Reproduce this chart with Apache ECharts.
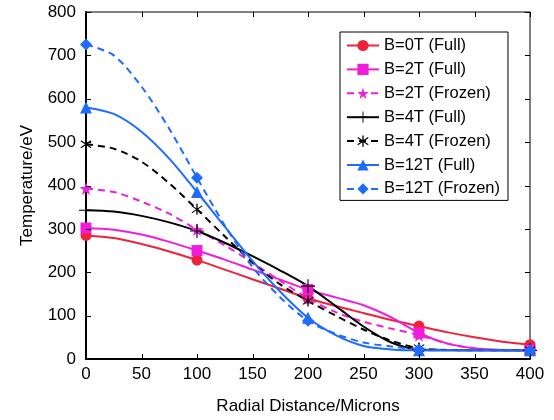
<!DOCTYPE html>
<html><head><meta charset="utf-8">
<script src="https://cdn.jsdelivr.net/npm/echarts@6/dist/echarts.min.js"></script>
<style>html,body{margin:0;padding:0;background:#fff}#c{width:554px;height:420px}</style>
</head><body><div id="c"></div>
<script>
const xs = [0, 25, 50, 75, 100, 125, 150, 175, 200, 225, 250, 275, 300, 325, 350, 375, 400];
const b0Full   = [285, 279, 265, 248, 228, 206, 184, 162, 140, 122, 106, 90, 76, 62, 50, 40, 33];
const b2Full   = [302, 298, 287, 270, 250, 229, 206, 183, 160, 142, 124, 96, 60, 36, 25, 21, 20];
const b2Frozen = [393, 385, 363, 335, 298, 262, 222, 180, 140, 108, 86, 70, 55, 36, 24, 20, 20];
const b4Full   = [343, 340, 330, 315, 295, 268, 237, 204, 168, 122, 75, 38, 22, 20, 20, 20, 20];
const b4Frozen = [495, 485, 455, 405, 345, 283, 222, 172, 134, 100, 68, 42, 25, 21, 20, 20, 20];
const b12Full  = [580, 565, 524, 462, 385, 305, 226, 155, 95, 55, 30, 22, 20, 20, 20, 20, 20];
const b12Frozen= [725, 700, 628, 531, 418, 308, 212, 142, 88, 58, 38, 29, 22, 21, 20, 20, 20];
const markerXs = [0, 100, 200, 300, 400];
const xTicks = [0, 50, 100, 150, 200, 250, 300, 350, 400];
const yTicks = [0, 100, 200, 300, 400, 500, 600, 700, 800];

const RED = '#f2213b', MAG = '#f01ed8', BLK = '#000000', BLU = '#1e6bff';
const STAR = 'path://M5,0 L6.176,3.382 L9.755,3.455 L6.902,5.618 L7.939,9.045 L5,7 L2.061,9.045 L3.098,5.618 L0.245,3.455 L3.824,3.382 Z';
const PLUS = 'path://M4.6,0 L5.4,0 L5.4,4.6 L10,4.6 L10,5.4 L5.4,5.4 L5.4,10 L4.6,10 L4.6,5.4 L0,5.4 L0,4.6 L4.6,4.6 Z';
const AST = 'path://M4.5,0 L5.5,0 L5.5,10 L4.5,10 Z M1.3,1.4 L9.2,7.8 L8.7,8.6 L0.8,2.2 Z M0.8,7.8 L8.7,1.4 L9.2,2.2 L1.3,8.6 Z';
const FONT = 'Liberation Sans';
const TICK_LEN = 5;

function mk(name, vals, color, dashed, symbol, size) {
  return {
    name, type: 'line', smooth: 0.3,
    symbol, symbolSize: size,
    data: xs.map((x, i) => markerXs.includes(x) ? [x, vals[i]] : {value: [x, vals[i]], symbol: 'none'}),
    lineStyle: {color, width: 2, type: dashed ? [7, 5] : 'solid'},
    itemStyle: {color, borderWidth: 0},
    emphasis: {disabled: true}, z: 3
  };
}

// tick marks on all four sides of the frame, positioned through the axes' own scales
function tickSeries(vals, horizontal) {
  return {
    type: 'custom', silent: true, z: 5,
    data: vals.map(v => horizontal ? [v, yTicks[0]] : [xTicks[0], v]),
    renderItem: (params, api) => {
      const p = api.coord([api.value(0), api.value(1)]);
      const cs = params.coordSys;
      const st = {stroke: '#000', lineWidth: 1};
      if (horizontal) {
        const x = Math.round(p[0]) + 0.5, b = cs.y + cs.height, t = cs.y;
        return {type: 'group', children: [
          {type: 'line', shape: {x1: x, y1: b, x2: x, y2: b - TICK_LEN}, style: st},
          {type: 'line', shape: {x1: x, y1: t, x2: x, y2: t + TICK_LEN}, style: st}
        ]};
      }
      const y = Math.round(p[1]) + 0.5, l = cs.x, r = cs.x + cs.width;
      return {type: 'group', children: [
        {type: 'line', shape: {x1: l, y1: y, x2: l + TICK_LEN, y2: y}, style: st},
        {type: 'line', shape: {x1: r, y1: y, x2: r - TICK_LEN, y2: y}, style: st}
      ]};
    }
  };
}

const chart = echarts.init(document.getElementById('c'), null, {renderer: 'canvas'});
chart.setOption({
  animation: false,
  textStyle: {fontFamily: FONT},
  grid: {left: 86, right: 24, top: 12, bottom: 59, show: true, borderColor: '#000', borderWidth: 1, backgroundColor: 'transparent'},
  legend: {
    orient: 'vertical', left: 340, top: 32,
    backgroundColor: '#fff', borderColor: '#000', borderWidth: 1,
    padding: [5, 8, 3, 6],
    itemWidth: 32, itemHeight: 14, itemGap: 6.9,
    textStyle: {fontFamily: FONT, fontSize: 16.5, color: '#000'},
    data: ['B=0T (Full)', 'B=2T (Full)', 'B=2T (Frozen)', 'B=4T (Full)', 'B=4T (Frozen)', 'B=12T (Full)', 'B=12T (Frozen)']
  },
  xAxis: {
    type: 'value', position: 'bottom', min: xTicks[0], max: xTicks[xTicks.length - 1], interval: 50,
    name: 'Radial Distance/Microns', nameLocation: 'middle', nameGap: 39,
    nameTextStyle: {fontFamily: FONT, fontSize: 17, color: '#000'},
    axisLine: {show: true, onZero: false, lineStyle: {color: '#000', width: 2}},
    axisTick: {show: false},
    axisLabel: {fontFamily: FONT, fontSize: 17, color: '#000', margin: 7},
    splitLine: {show: false}
  },
  yAxis: {
    type: 'value', position: 'left', min: yTicks[0], max: yTicks[yTicks.length - 1], interval: 100,
    name: 'Temperature/eV', nameLocation: 'middle', nameGap: 50, nameRotate: 90,
    nameTextStyle: {fontFamily: FONT, fontSize: 17, color: '#000'},
    axisLine: {show: true, onZero: false, lineStyle: {color: '#000', width: 2}},
    axisTick: {show: false},
    axisLabel: {fontFamily: FONT, fontSize: 17, color: '#000', margin: 10},
    splitLine: {show: false}
  },
  series: [
    tickSeries(xTicks, true),
    tickSeries(yTicks, false),
    mk('B=0T (Full)', b0Full, RED, false, 'circle', 11),
    mk('B=2T (Full)', b2Full, MAG, false, 'rect', 11),
    mk('B=2T (Frozen)', b2Frozen, MAG, true, STAR, 13),
    mk('B=4T (Full)', b4Full, BLK, false, PLUS, 14),
    mk('B=4T (Frozen)', b4Frozen, BLK, true, AST, 11),
    mk('B=12T (Full)', b12Full, BLU, false, 'triangle', 12),
    mk('B=12T (Frozen)', b12Frozen, BLU, true, 'diamond', 12)
  ]
});
</script></body></html>
